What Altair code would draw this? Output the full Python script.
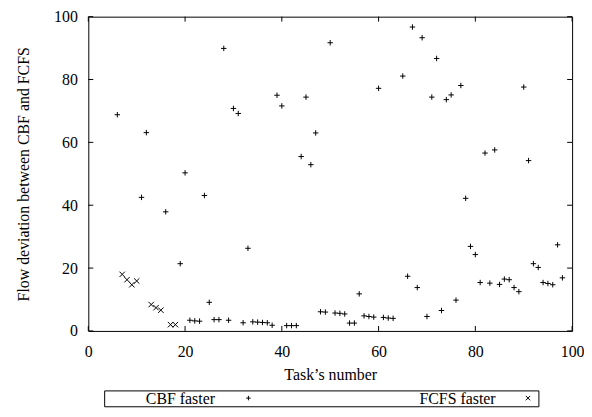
import altair as alt
import pandas as pd

# ---- data ----
cbf_tasks = [6, 11, 12, 16, 19, 20, 21, 22, 23, 24, 25, 26, 27, 28, 29, 30, 31, 32, 33,
             34, 35, 36, 37, 38, 39, 40, 41, 42, 43, 44, 45, 46, 47, 48, 49, 50, 51, 52,
             53, 54, 55, 56, 57, 58, 59, 60, 61, 62, 63, 65, 66, 67, 68, 69, 70, 71, 72,
             73, 74, 75, 76, 77, 78, 79, 80, 81, 82, 83, 84, 85, 86, 87, 88, 89, 90, 91,
             92, 93, 94, 95, 96, 97, 98]
cbf_values = [68.8, 42.5, 63.1, 37.9, 21.4, 50.3, 3.4, 3.2, 3.1, 43.1, 9.1, 3.6, 3.6, 89.9,
              3.4, 70.8, 69.2, 2.6, 26.3, 2.9, 2.8, 2.7, 2.6, 1.8, 75.0, 71.6, 1.7, 1.7,
              1.7, 55.5, 74.4, 52.9, 63.0, 6.1, 6.0, 91.7, 5.7, 5.6, 5.4, 2.5, 2.5, 11.8,
              4.8, 4.6, 4.4, 77.2, 4.3, 4.1, 4.0, 81.1, 17.4, 96.7, 13.8, 93.3, 4.6, 74.4,
              86.7, 6.5, 73.6, 75.1, 9.8, 78.1, 42.2, 26.9, 24.3, 15.4, 56.6, 15.2, 57.6,
              14.8, 16.5, 16.3, 13.8, 12.5, 77.6, 54.2, 21.4, 20.2, 15.4, 15.1, 14.7, 27.4,
              16.9]
fcfs_tasks = [7, 8, 9, 10, 13, 14, 15, 17, 18]
fcfs_values = [18.0, 16.3, 14.7, 15.9, 8.4, 7.4, 6.6, 2.0, 2.0]

series_names = ["CBF faster", "FCFS faster"]
x_ticks = [0, 20, 40, 60, 80, 100]
y_ticks = [0, 20, 40, 60, 80, 100]

series_col = [series_names[0]] * len(cbf_tasks) + [series_names[1]] * len(fcfs_tasks)
df = pd.DataFrame({
    "task": cbf_tasks + fcfs_tasks,
    "dev": cbf_values + fcfs_values,
    "series": series_col,
    "series_label": series_col,
})
xt = pd.DataFrame({"task": x_ticks})
yt = pd.DataFrame({"dev": y_ticks})

PLUS = "M-1,0L1,0M0,-1L0,1"
CROSS = "M-1,-1L1,1M-1,1L1,-1"
FONT = "Liberation Serif"
W, H = 488, 317
TL = 5
LY = 377

xscale = alt.Scale(domain=[0, 100], nice=False, zero=False)
yscale = alt.Scale(domain=[0, 100], nice=False, zero=False)

# key box with the marker symbols
shape_legend = alt.Legend(title=" ", titleOrient="left", titlePadding=138,
                          titleFontSize=13, orient="none", legendX=16, legendY=LY,
                          direction="horizontal", strokeColor="black",
                          padding=1, columnPadding=266, labelOffset=3,
                          labelExpr="''", labelFontSize=13,
                          symbolStrokeColor="black", symbolSize=20,
                          symbolStrokeWidth=1, symbolFillColor="transparent")
# key texts, placed before their markers as in the reference
text_legend = alt.Legend(title=None, orient="none", legendX=41, legendY=LY,
                         direction="horizontal", padding=1, columnPadding=190,
                         labelOffset=0, labelFont=FONT, labelFontSize=16,
                         labelColor="black", symbolOpacity=0, symbolSize=1,
                         symbolStrokeWidth=0, labelLimit=0)

points = alt.Chart(df).mark_point(filled=False, strokeWidth=1, size=30, opacity=1).encode(
    x=alt.X("task:Q", scale=xscale,
            axis=alt.Axis(values=x_ticks, title="Task’s number", domain=False, ticks=False,
                          grid=False, labelPadding=13, titlePadding=7, labelFlush=False,
                          labelFont=FONT)),
    y=alt.Y("dev:Q", scale=yscale,
            axis=alt.Axis(values=y_ticks, title="Flow deviation between CBF and FCFS",
                          domain=False, ticks=False, grid=False, labelPadding=11,
                          titlePadding=22, labelFlush=False, labelFont=FONT)),
    shape=alt.Shape("series:N", scale=alt.Scale(domain=series_names, range=[PLUS, CROSS]),
                    legend=shape_legend),
    color=alt.Color("series_label:N", scale=alt.Scale(range=["black", "black"]),
                    legend=text_legend),
)

yl = alt.Chart(yt).mark_rule(color="black", strokeWidth=1).encode(
    y=alt.Y("dev:Q", scale=yscale), x=alt.value(0), x2=alt.value(TL))
yr = alt.Chart(yt).mark_rule(color="black", strokeWidth=1).encode(
    y=alt.Y("dev:Q", scale=yscale), x=alt.value(W - TL), x2=alt.value(W))
xb = alt.Chart(xt).mark_rule(color="black", strokeWidth=1).encode(
    x=alt.X("task:Q", scale=xscale), y=alt.value(H), y2=alt.value(H - TL))
xtp = alt.Chart(xt).mark_rule(color="black", strokeWidth=1).encode(
    x=alt.X("task:Q", scale=xscale), y=alt.value(0), y2=alt.value(TL))

chart = alt.layer(points, yl, yr, xb, xtp).properties(
    width=W, height=H,
    autosize=alt.AutoSizeParams(type="none"),
    padding={"left": 81, "top": 7, "right": 12, "bottom": 77},
).configure_view(stroke="black", strokeWidth=1).configure_axis(
    labelFont=FONT, labelFontSize=16, labelColor="black",
    titleFont=FONT, titleFontSize=16, titleFontWeight="normal", titleColor="black",
).configure_legend(titleFont=FONT, titleFontSize=16)

chart.save("out.html", embed_options={"renderer": "svg", "actions": False})
